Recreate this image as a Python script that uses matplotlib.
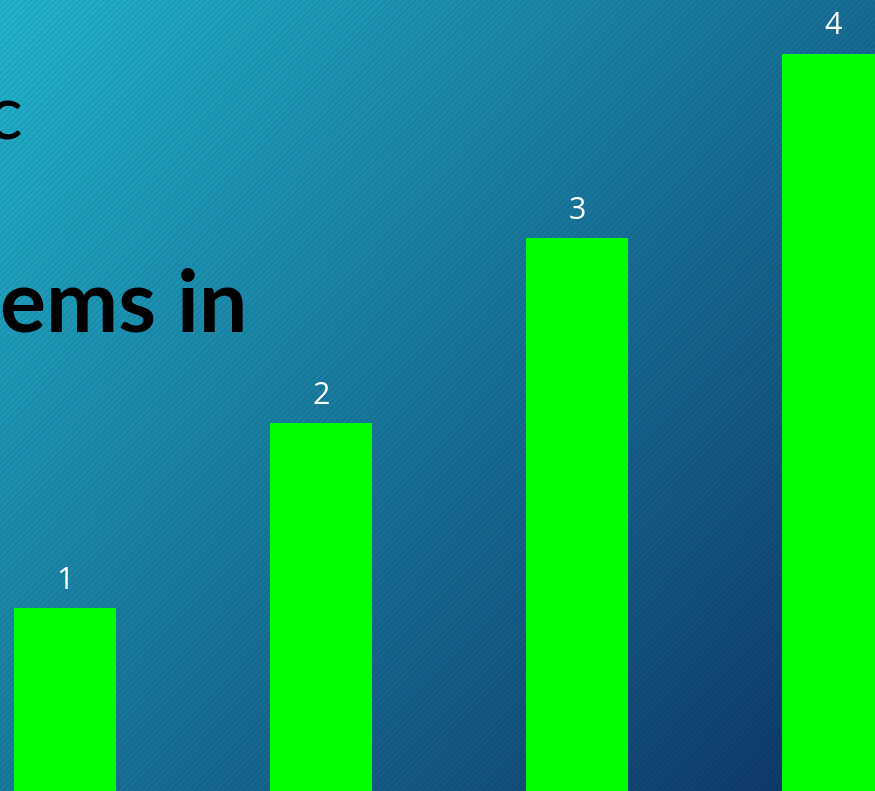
import numpy as np
import matplotlib
matplotlib.use("Agg")
import matplotlib.pyplot as plt

categories = ["A", "B", "C", "D"]
values = [1, 2, 3, 4]
labels = ["1", "2", "3", "4"]

W, H = 875, 791
fig = plt.figure(figsize=(W / 100, H / 100), dpi=100)

# background gradient with diagonal stripes
bg = fig.add_axes([0, 0, 1, 1])
yy, xx = np.mgrid[0:H, 0:W]
t = (xx / W * 0.55 + yy / H * 0.45)
c0 = np.array([0x22, 0xb4, 0xcd]) / 255.0
c1 = np.array([0x0e, 0x33, 0x66]) / 255.0
img = c0[None, None, :] * (1 - t[..., None]) + c1[None, None, :] * t[..., None]
stripe = ((xx + yy) % 6) < 2
img = img * np.where(stripe, 0.92, 1.0)[..., None]
bg.imshow(np.clip(img, 0, 1), extent=[0, W, H, 0], aspect="auto", interpolation="nearest")
bg.set_xlim(0, W)
bg.set_ylim(H, 0)
bg.axis("off")

# main axes
ax = fig.add_axes([0, 0, 1, 1])
ax.patch.set_alpha(0)
x = np.arange(len(categories))
bars = ax.bar(x, values, width=0.4, color="#00ff00", edgecolor="none")
ax.bar_label(bars, labels=labels, padding=9, color="white", fontsize=22, family="Open Sans")
ax.set_xlim(-65 / 256, (W - 65) / 256)
ax.set_ylim(0.01, 4.29)
ax.axis("off")

fig.text(23 / W, 1 - 140 / H, "c", ha="right", va="baseline", fontsize=54,
         family="Lato", color="black")
fig.text(248 / W, 1 - 332 / H, "ems in", ha="right", va="baseline", fontsize=62,
         family="Lato", fontweight="bold", color="black")

fig.savefig("out.png", dpi=100)
